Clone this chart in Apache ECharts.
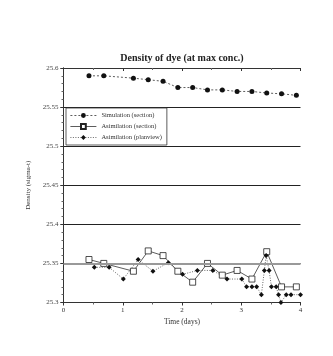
<!DOCTYPE html>
<html>
<head>
<meta charset="utf-8">
<script src="https://cdn.jsdelivr.net/npm/echarts@6/dist/echarts.min.js"></script>
<style>html,body{margin:0;padding:0;background:#fff;}#c{width:333px;height:356px;}</style>
</head>
<body>
<div id="c"></div>
<script>
var simTimes = [0.43, 0.68, 1.18, 1.43, 1.68, 1.93, 2.18, 2.43, 2.68, 2.93, 3.18, 3.43, 3.68, 3.93];
var simValues = [25.590, 25.590, 25.587, 25.585, 25.583, 25.575, 25.575, 25.572, 25.572, 25.570, 25.570, 25.568, 25.567, 25.565];
var asecTimes = [0.43, 0.68, 1.18, 1.43, 1.68, 1.93, 2.18, 2.43, 2.68, 2.93, 3.18, 3.43, 3.68, 3.93];
var asecValues = [25.355, 25.350, 25.340, 25.366, 25.360, 25.340, 25.326, 25.350, 25.335, 25.341, 25.330, 25.365, 25.320, 25.320];
var aplanTimes = [0.52, 0.77, 1.01, 1.26, 1.51, 1.77, 2.01, 2.26, 2.52, 2.76, 3.01, 3.09, 3.18, 3.26, 3.34, 3.39, 3.42, 3.47, 3.51, 3.59, 3.63, 3.67, 3.76, 3.84, 4.00];
var aplanValues = [25.345, 25.345, 25.330, 25.355, 25.340, 25.351, 25.336, 25.341, 25.341, 25.330, 25.330, 25.320, 25.320, 25.320, 25.310, 25.341, 25.360, 25.341, 25.320, 25.320, 25.310, 25.300, 25.310, 25.310, 25.310];
var xTicks = [0, 1, 2, 3, 4];
var yTicks = [25.3, 25.35, 25.4, 25.45, 25.5, 25.55, 25.6];
var refLevel = 25.35;

function zip(a, b) { return a.map(function (t, i) { return [t, b[i]]; }); }

var serif = 'Liberation Serif';
var chart = echarts.init(document.getElementById('c'), null, { renderer: 'canvas' });
chart.setOption({
  animation: false,
  backgroundColor: '#fff',
  title: {
    text: 'Density of dye (at max conc.)',
    left: 177, top: 48, textAlign: 'center',
    textStyle: { fontFamily: serif, fontWeight: 'bold', fontSize: 10, color: '#222' }
  },
  legend: {
    orient: 'vertical', left: 66, top: 108,
    itemWidth: 26, itemHeight: 6, itemGap: 4,
    padding: [4, 5, 4, 4],
    borderColor: '#333', borderWidth: 0.8,
    textStyle: { fontFamily: serif, fontSize: 6.5, color: '#333' },
    lineStyle: { width: 0.8 },
    data: ['Simulation (section)', 'Asimilation (section)', 'Asimilation (planview)']
  },
  grid: { left: 63.5, right: 32.5, top: 68, bottom: 53.5 },
  xAxis: [{
    type: 'value', min: xTicks[0], max: xTicks[xTicks.length - 1], interval: 1,
    name: 'Time (days)', nameLocation: 'middle', nameGap: 16,
    nameTextStyle: { fontFamily: serif, fontSize: 7.5, color: '#333' },
    axisLine: { lineStyle: { color: '#333', width: 1 } },
    axisTick: { show: true, length: 3, lineStyle: { color: '#333' } },
    minorTick: { show: true, splitNumber: 2, length: 2, lineStyle: { color: '#666' } },
    axisLabel: { fontFamily: serif, fontSize: 7, color: '#333', margin: 4 },
    splitLine: { show: false }
  }, {
    type: 'value', position: 'top', min: 0, max: 4, interval: 1,
    axisLine: { lineStyle: { color: '#333' } },
    axisTick: { show: true, inside: true, length: 3, lineStyle: { color: '#333' } },
    minorTick: { show: true, splitNumber: 2, length: 2, lineStyle: { color: '#666' } },
    axisLabel: { show: false }, splitLine: { show: false }
  }],
  yAxis: [{
    type: 'value', min: yTicks[0], max: yTicks[yTicks.length - 1], interval: 0.05,
    name: 'Density (sigma-t)', nameLocation: 'middle', nameGap: 18,
    nameTextStyle: { fontFamily: serif, fontSize: 7, color: '#333' },
    axisLine: { show: true, lineStyle: { color: '#333', width: 1 } },
    axisTick: { show: true, length: 3, lineStyle: { color: '#333' } },
    axisLabel: { fontFamily: serif, fontSize: 7, color: '#444', margin: 5,
      formatter: function (v) { return String(Math.round(v * 100) / 100); } },
    splitLine: { show: true, lineStyle: { color: '#222', width: 1 } }
  }, {
    type: 'value', position: 'right', min: 25.3, max: 25.6, interval: 0.05,
    axisLine: { show: true, lineStyle: { color: '#333' } },
    axisTick: { show: true, inside: true, length: 3, lineStyle: { color: '#333' } },
    minorTick: { show: true, splitNumber: 5, length: 2, lineStyle: { color: '#666' } },
    axisLabel: { show: false }, splitLine: { show: false }
  }],
  series: [{
    name: 'Simulation (section)', type: 'line',
    data: zip(simTimes, simValues),
    symbol: 'circle', symbolSize: 5,
    itemStyle: { color: '#111' },
    lineStyle: { color: '#333', width: 0.8, type: [2, 2] },
    markLine: {
      silent: true, symbol: 'none', label: { show: false },
      lineStyle: { color: '#999', width: 2, type: 'solid' },
      data: [{ yAxis: refLevel }]
    }
  }, {
    name: 'Asimilation (section)', type: 'line',
    data: zip(asecTimes, asecValues),
    symbol: 'rect', symbolSize: 6,
    itemStyle: { color: '#fff', borderColor: '#222', borderWidth: 0.8 },
    lineStyle: { color: '#333', width: 0.8, type: 'solid' }
  }, {
    name: 'Asimilation (planview)', type: 'line',
    data: zip(aplanTimes, aplanValues),
    symbol: 'diamond', symbolSize: 5,
    itemStyle: { color: '#111' },
    lineStyle: { color: '#444', width: 0.8, type: [1, 1.5] }
  }]
});
</script>
</body>
</html>
